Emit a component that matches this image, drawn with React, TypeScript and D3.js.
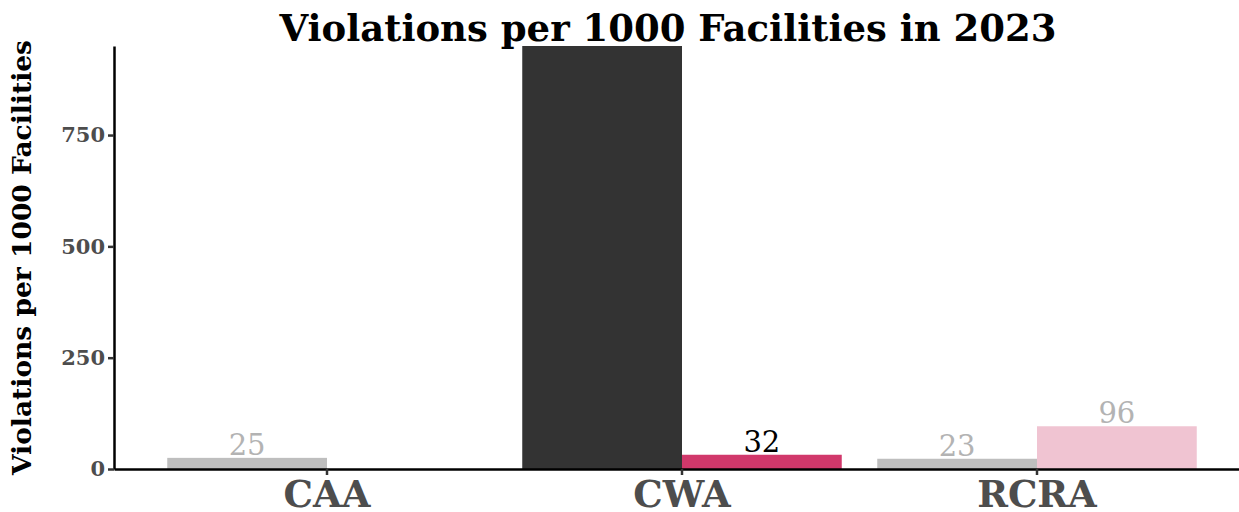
import * as d3 from 'd3';
import React, { useEffect, useRef } from 'react';

// statutes on the x axis
const categories = ['CAA', 'CWA', 'RCRA'];
// two dodged bars per statute
const groups = ['first', 'second'];
// violations per 1000 facilities (null = no bar)
const firstValues = [25, 950, 23];
const secondValues: (number | null)[] = [null, 32, 96];
// fill per bar
const firstColors = ['#bebebe', '#333333', '#bebebe'];
const secondColors = ['#bebebe', '#d1386b', '#f0c4d2'];
// label colour per bar
const firstLabelColors = ['#b3b3b3', '#000000', '#b3b3b3'];
const secondLabelColors = ['#b3b3b3', '#000000', '#b3b3b3'];
const yTicks = [0, 250, 500, 750];
const yMax = 950;

const App: React.FC = () => {
  const svgRef = useRef<SVGSVGElement | null>(null);

  useEffect(() => {
    if (!svgRef.current) return;
    const width = 1239;
    const height = 512;
    const margin = { top: 46, left: 114, bottom: 43 };
    const plotRight = 1250;
    const font = 'DejaVu Serif';

    const svg = d3.select(svgRef.current);
    svg.selectAll('*').remove();
    svg.attr('width', width).attr('height', height);

    const x = d3.scaleBand().domain(categories).range([margin.left, plotRight]).paddingInner(0.1).paddingOuter(0.15);
    const xs = d3.scaleBand().domain(groups).range([0, x.bandwidth()]).padding(0);
    const y = d3.scaleLinear().domain([0, yMax]).range([height - margin.bottom, margin.top]);

    svg.append('defs').append('clipPath').attr('id', 'panel')
      .append('rect')
      .attr('x', margin.left).attr('y', margin.top)
      .attr('width', plotRight - margin.left).attr('height', height - margin.bottom - margin.top);

    const rows = categories.flatMap((c, i) => [
      { cat: c, group: 'first', value: firstValues[i], fill: firstColors[i], lab: firstLabelColors[i] },
      { cat: c, group: 'second', value: secondValues[i], fill: secondColors[i], lab: secondLabelColors[i] },
    ]).filter((d) => d.value != null) as { cat: string; group: string; value: number; fill: string; lab: string }[];

    const panel = svg.append('g').attr('clip-path', 'url(#panel)');

    panel.selectAll('rect.bar')
      .data(rows)
      .enter()
      .append('rect')
      .attr('class', 'bar')
      .attr('x', (d) => x(d.cat)! + xs(d.group)!)
      .attr('width', xs.bandwidth())
      .attr('y', (d) => y(d.value))
      .attr('height', (d) => y(0) - y(d.value))
      .attr('fill', (d) => d.fill);

    panel.selectAll('text.lab')
      .data(rows)
      .enter()
      .append('text')
      .attr('class', 'lab')
      .attr('x', (d) => x(d.cat)! + xs(d.group)! + xs.bandwidth() / 2)
      .attr('y', (d) => y(d.value) - 3)
      .attr('text-anchor', 'middle')
      .attr('font-family', font)
      .attr('font-size', 29)
      .attr('fill', (d) => d.lab)
      .text((d) => d3.format('d')(d.value));

    // y axis
    const yAxis = svg.append('g')
      .attr('transform', `translate(${margin.left},0)`)
      .call(d3.axisLeft(y).tickValues(yTicks).tickSize(6).tickPadding(3).tickSizeOuter(0));
    yAxis.select('.domain').attr('stroke', '#000').attr('stroke-width', 2.5);
    yAxis.selectAll('.tick line').attr('stroke', '#333').attr('stroke-width', 2.5);
    yAxis.selectAll('.tick text')
      .attr('font-family', font).attr('font-weight', 'bold').attr('font-size', 21).attr('fill', '#4d4d4d');

    // x axis
    const xAxis = svg.append('g')
      .attr('transform', `translate(0,${y(0)})`)
      .call(d3.axisBottom(x).tickSize(6).tickPadding(6).tickSizeOuter(0));
    xAxis.select('.domain').attr('stroke', '#000').attr('stroke-width', 2.5);
    xAxis.selectAll('.tick line').attr('stroke', '#333').attr('stroke-width', 2.5);
    xAxis.selectAll('.tick text')
      .attr('font-family', font).attr('font-weight', 'bold').attr('font-size', 37).attr('fill', '#4d4d4d');

    svg.append('text')
      .attr('x', 668)
      .attr('y', 41)
      .attr('text-anchor', 'middle')
      .attr('font-family', font)
      .attr('font-weight', 'bold')
      .attr('font-size', 37)
      .attr('fill', '#000')
      .text('Violations per 1000 Facilities in 2023');

    svg.append('text')
      .attr('transform', `translate(31,${(margin.top + y(0)) / 2}) rotate(-90)`)
      .attr('text-anchor', 'middle')
      .attr('font-family', font)
      .attr('font-weight', 'bold')
      .attr('font-size', 26.5)
      .attr('fill', '#000')
      .text('Violations per 1000 Facilities');
  }, []);

  return <svg ref={svgRef} style={{ position: 'absolute', left: 0, top: 0 }} />;
};

export default App;
